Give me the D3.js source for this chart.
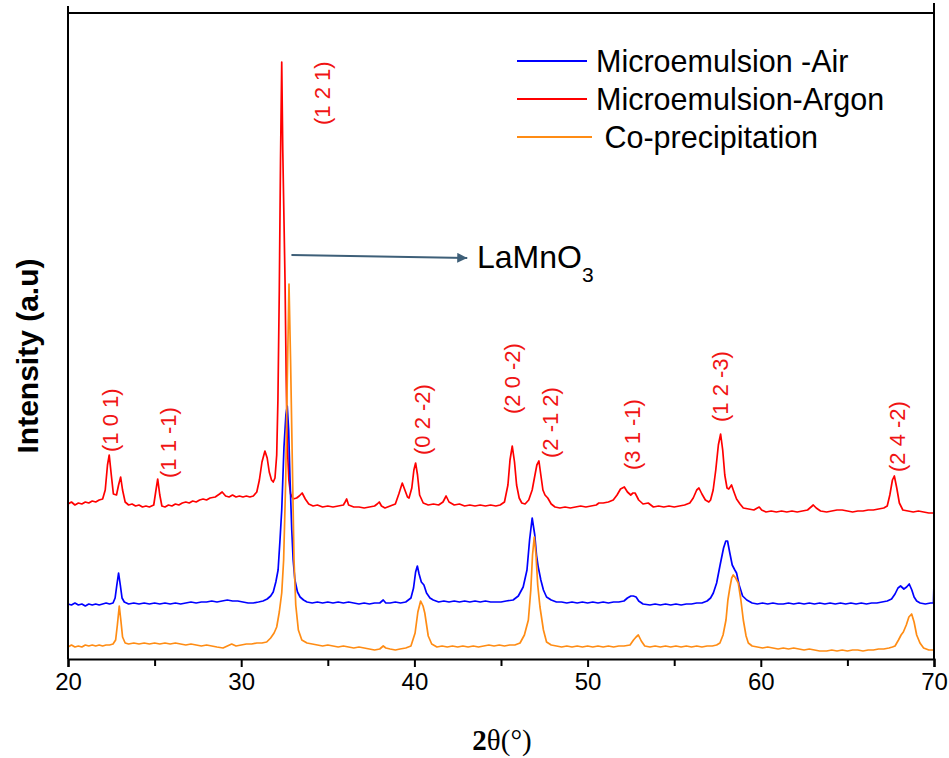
<!DOCTYPE html>
<html>
<head>
<meta charset="utf-8">
<script src="https://cdn.jsdelivr.net/npm/d3@7"></script>
<style>
  html, body { margin: 0; padding: 0; background: #fff; }
  svg { display: block; }
</style>
</head>
<body>
<script>
// ---------------- DATA ----------------
const seriesNames = ["Microemulsion -Air", "Microemulsion-Argon", " Co-precipitation"];
const seriesColors = ["#0000ff", "#ff0000", "#ff8c14"];

const xTicks = [20, 30, 40, 50, 60, 70];
const xMinorTicks = [25, 35, 45, 55, 65];

// [2θ, intensity (a.u., offset stacked)]
const argonPattern = [
[20.0,155],[20.2,157],[20.4,154],[20.6,156],[20.8,155],[21.0,157],[21.2,156],[21.4,158],[21.6,157],[21.8,159],
[22.0,160],[22.15,169],[22.28,194],[22.38,204],[22.5,184],[22.62,165],[22.8,164],[22.92,174],[23.04,182],[23.15,169],
[23.3,157],[23.5,154],[23.7,155],[23.9,153],[24.1,154],[24.3,152],[24.5,153],[24.7,152],[24.95,154],[25.08,169],
[25.18,180],[25.3,164],[25.42,153],[25.6,152],[25.8,154],[26.0,153],[26.2,155],[26.4,154],[26.6,156],[26.8,157],
[27.0,156],[27.2,158],[27.4,157],[27.6,159],[27.8,160],[28.0,159],[28.2,161],[28.5,162],[28.75,165],[28.9,167],
[29.1,163],[29.3,162],[29.5,164],[29.7,162],[29.9,163],[30.1,162],[30.3,163],[30.5,162],[30.7,163],[30.9,167],
[31.05,179],[31.2,197],[31.37,208],[31.5,201],[31.62,187],[31.75,179],[31.85,177],[31.95,181],[32.05,204],[32.12,259],
[32.2,369],[32.27,499],[32.34,597],[32.4,509],[32.47,439],[32.53,379],[32.6,279],[32.66,214],[32.75,179],[32.85,165],
[33.0,160],[33.2,161],[33.35,163],[33.52,166],[33.7,160],[33.9,155],[34.15,153],[34.4,154],[34.7,152],[35.0,153],
[35.3,152],[35.6,153],[35.9,154],[36.0,157],[36.09,160],[36.2,154],[36.5,152],[36.8,152],[37.1,151],[37.4,152],
[37.7,153],[37.85,155],[37.97,157],[38.1,153],[38.3,151],[38.6,153],[38.9,155],[39.1,165],[39.3,176],[39.45,169],
[39.6,162],[39.69,161],[39.85,171],[39.97,189],[40.07,196],[40.18,184],[40.3,164],[40.51,156],[40.8,154],[41.1,155],
[41.4,154],[41.65,157],[41.83,163],[42.0,157],[42.3,154],[42.6,155],[42.9,153],[43.2,154],[43.5,153],[43.8,154],
[44.1,153],[44.4,154],[44.7,153],[44.95,154],[45.2,157],[45.4,174],[45.52,199],[45.65,213],[45.78,197],[45.9,174],
[46.05,161],[46.2,156],[46.39,155],[46.6,159],[46.8,169],[46.95,183],[47.07,194],[47.19,198],[47.3,184],[47.42,169],
[47.54,164],[47.7,161],[47.9,155],[48.12,152],[48.4,151],[48.7,152],[49.0,151],[49.3,152],[49.6,153],[49.9,152],
[50.2,153],[50.5,154],[50.65,156],[50.9,156],[51.2,157],[51.48,159],[51.7,164],[51.9,170],[52.12,172],[52.3,167],
[52.49,164],[52.62,166],[52.74,166],[52.95,159],[53.2,155],[53.5,156],[53.8,152],[54.1,153],[54.4,152],[54.7,153],
[55.0,152],[55.3,153],[55.6,154],[55.9,156],[56.1,161],[56.3,169],[56.43,171],[56.6,165],[56.8,159],[57.0,157],
[57.1,159],[57.25,169],[57.4,189],[57.55,214],[57.68,225],[57.8,209],[57.92,184],[58.05,171],[58.15,170],[58.31,174],
[58.45,167],[58.6,160],[58.8,155],[58.99,151],[59.3,150],[59.6,149],[59.8,151],[59.91,152],[60.05,149],[60.3,147],
[60.6,148],[60.9,147],[61.2,148],[61.5,147],[61.8,148],[62.1,147],[62.4,148],[62.7,149],[62.9,152],[63.03,154],
[63.2,151],[63.45,148],[63.8,147],[64.1,148],[64.4,149],[64.7,149],[65.0,148],[65.3,147],[65.6,148],[65.9,148],
[66.2,149],[66.5,149],[66.8,150],[67.1,151],[67.3,153],[67.45,164],[67.6,179],[67.71,183],[67.85,171],[68.0,156],
[68.2,149],[68.5,148],[68.8,147],[69.1,148],[69.4,147],[69.7,146],[70.0,146]
];

const airPattern = [
[20.0,55],[20.2,54],[20.4,56],[20.6,54],[20.8,55],[21.0,53],[21.2,55],[21.4,54],[21.6,55],[21.8,54],
[22.0,55],[22.2,56],[22.4,55],[22.6,56],[22.72,61],[22.82,74],[22.92,86],[23.02,74],[23.12,61],[23.25,57],
[23.5,55],[23.8,56],[24.1,55],[24.4,56],[24.7,55],[25.0,56],[25.3,55],[25.6,56],[25.9,55],[26.2,56],
[26.5,55],[26.8,56],[27.1,57],[27.4,56],[27.7,57],[28.0,57],[28.3,58],[28.6,57],[28.9,58],[29.2,59],
[29.5,58],[29.8,58],[30.1,57],[30.4,56],[30.7,56],[31.0,57],[31.26,58],[31.5,60],[31.7,63],[31.85,67],
[32.0,77],[32.13,89],[32.24,119],[32.34,149],[32.47,212],[32.58,244],[32.66,253],[32.74,229],[32.82,179],[32.92,129],
[33.0,99],[33.1,79],[33.25,67],[33.4,62],[33.6,59],[33.8,57],[34.1,56],[34.4,57],[34.7,56],[35.0,57],
[35.3,56],[35.6,57],[35.9,56],[36.2,57],[36.5,56],[36.8,55],[37.1,56],[37.4,55],[37.7,56],[38.0,56],
[38.2,59],[38.35,56],[38.6,56],[38.9,57],[39.2,56],[39.5,57],[39.8,61],[39.95,71],[40.07,87],[40.17,93],
[40.27,85],[40.4,77],[40.55,74],[40.7,66],[40.9,61],[41.09,59],[41.4,57],[41.7,58],[42.0,57],[42.3,58],
[42.6,57],[42.9,58],[43.2,57],[43.5,58],[43.8,57],[44.1,58],[44.4,57],[44.7,57],[45.0,57],[45.3,58],
[45.7,59],[46.0,63],[46.28,72],[46.5,89],[46.65,119],[46.8,141],[46.95,124],[47.05,104],[47.15,92],[47.3,79],
[47.45,69],[47.63,62],[47.9,59],[48.2,57],[48.5,57],[48.8,56],[49.1,57],[49.4,56],[49.7,57],[50.0,56],
[50.3,57],[50.6,56],[50.9,57],[51.2,56],[51.5,57],[51.8,57],[52.1,58],[52.3,61],[52.5,63],[52.64,63],
[52.8,62],[52.95,58],[53.2,55],[53.6,54],[53.9,55],[54.2,54],[54.5,55],[54.8,54],[55.1,55],[55.4,54],
[55.7,55],[56.0,55],[56.3,56],[56.6,56],[56.9,58],[57.1,61],[57.26,66],[57.45,76],[57.65,94],[57.85,111],
[57.98,118],[58.08,118],[58.2,107],[58.35,94],[58.5,89],[58.6,86],[58.75,74],[58.95,63],[59.19,59],[59.5,56],
[59.8,55],[60.1,56],[60.4,55],[60.7,56],[61.0,55],[61.3,55],[61.6,56],[61.9,55],[62.2,56],[62.5,55],
[62.8,56],[63.1,55],[63.4,56],[63.7,55],[64.0,56],[64.3,55],[64.6,56],[64.9,55],[65.2,56],[65.5,55],
[65.8,56],[66.1,55],[66.4,56],[66.7,56],[67.0,57],[67.3,58],[67.55,60],[67.75,65],[67.92,71],[68.07,73],
[68.26,70],[68.42,72],[68.57,75],[68.72,69],[68.85,62],[69.0,58],[69.2,56],[69.5,55],[69.8,56],[69.97,56],
[70.0,77]
];

const coprecPattern = [
[20.0,12],[20.2,14],[20.4,12],[20.6,13],[20.8,12],[21.0,14],[21.2,13],[21.4,14],[21.6,13],[21.8,14],
[22.0,13],[22.2,14],[22.4,14],[22.6,15],[22.75,19],[22.85,34],[22.96,53],[23.05,39],[23.15,22],[23.3,16],
[23.5,15],[23.8,16],[24.1,15],[24.4,16],[24.7,15],[25.0,16],[25.3,15],[25.6,16],[25.9,15],[26.2,16],
[26.5,15],[26.8,14],[27.1,15],[27.4,14],[27.7,13],[28.0,14],[28.3,13],[28.6,12],[28.95,11],[29.2,13],
[29.45,15],[29.7,13],[30.0,14],[30.3,15],[30.6,15],[30.9,16],[31.2,16],[31.47,17],[31.7,21],[31.9,26],
[32.05,32],[32.2,47],[32.34,66],[32.45,99],[32.57,179],[32.66,279],[32.76,375],[32.85,299],[32.95,199],[33.05,99],
[33.15,54],[33.3,29],[33.5,19],[33.8,16],[34.1,15],[34.4,14],[34.7,13],[35.0,14],[35.3,13],[35.6,12],
[35.9,13],[36.2,12],[36.5,11],[36.8,12],[37.1,11],[37.4,10],[37.7,9],[38.0,10],[38.2,13],[38.35,11],
[38.6,10],[38.9,9],[39.17,10],[39.5,11],[39.8,13],[40.04,26],[40.2,47],[40.36,58],[40.5,53],[40.6,46],
[40.8,23],[41.0,15],[41.3,12],[41.6,13],[41.9,12],[42.2,13],[42.5,12],[42.8,13],[43.1,12],[43.4,13],
[43.7,12],[44.0,13],[44.3,14],[44.6,13],[44.9,14],[45.2,13],[45.5,14],[45.8,14],[46.1,16],[46.35,24],
[46.58,39],[46.72,69],[46.82,104],[46.92,122],[47.02,104],[47.12,74],[47.25,52],[47.45,29],[47.63,17],[47.9,14],
[48.2,13],[48.5,12],[48.8,13],[49.1,12],[49.4,13],[49.7,12],[50.0,13],[50.3,12],[50.6,13],[50.9,12],
[51.2,13],[51.5,12],[51.8,13],[52.1,13],[52.45,14],[52.65,19],[52.8,22],[52.93,24],[53.1,18],[53.3,13],
[53.6,12],[53.9,13],[54.2,12],[54.5,13],[54.8,12],[55.1,13],[55.4,12],[55.7,13],[56.0,12],[56.3,13],
[56.6,12],[56.9,13],[57.2,13],[57.45,14],[57.64,16],[57.82,24],[57.99,39],[58.1,59],[58.22,72],[58.32,81],
[58.41,84],[58.55,81],[58.7,76],[58.85,59],[58.99,39],[59.15,23],[59.28,16],[59.5,13],[59.8,12],[60.1,11],
[60.4,12],[60.7,11],[61.0,10],[61.3,11],[61.6,10],[61.9,11],[62.2,10],[62.5,9],[62.8,10],[63.1,9],
[63.4,8],[63.8,8],[64.1,9],[64.4,8],[64.7,9],[65.0,8],[65.3,9],[65.6,9],[65.9,8],[66.2,9],
[66.5,9],[66.8,10],[67.1,10],[67.4,11],[67.6,12],[67.75,13],[67.95,19],[68.1,24],[68.23,27],[68.4,34],
[68.55,42],[68.71,45],[68.85,37],[69.0,24],[69.19,16],[69.4,11],[69.7,9],[70.0,9]
];

// Miller index annotations: [label, 2θ, intensity at label foot]
const peakLabels = [
  ["(1 0 1)", 22.42, 207],
  ["(1 1 -1)", 25.77, 181],
  ["(1 2 1)", 34.67, 534],
  ["(0 2 -2)", 40.44, 204],
  ["(2 0 -2)", 45.64, 245],
  ["(2 -1 2)", 47.83, 201],
  ["(3 1 -1)", 52.56, 189],
  ["(1 2 -3)", 57.64, 237],
  ["(2 4 -2)", 67.86, 187]
];

// Phase arrow: from [2θ, I] to [2θ, I]
const phaseArrow = [[32.9, 404], [43.05, 401]];
const phaseName = "LaMnO";
const phaseSub = "3";

// ---------------- CHART ----------------
const W = 949, H = 758;
const margin = { left: 68, right: 15, top: 13, bottom: 99 };
const svg = d3.select("body").append("svg").attr("width", W).attr("height", H);

const x = d3.scaleLinear().domain([20, 70]).range([margin.left, W - margin.right]);
const y = d3.scaleLinear().domain([0, 646]).range([H - margin.bottom, margin.top]);

const sans = "'Liberation Sans', Arial, Helvetica, sans-serif";
const serif = "'Liberation Serif', 'Times New Roman', serif";

// patterns
const line = d3.line().x(d => x(d[0])).y(d => y(d[1]));
const drawOrder = [[argonPattern, 1], [airPattern, 0], [coprecPattern, 2]];
drawOrder.forEach(([data, i]) => {
  svg.append("path").datum(data)
    .attr("d", line)
    .attr("fill", "none")
    .attr("stroke", seriesColors[i])
    .attr("stroke-width", 1.7)
    .attr("stroke-linejoin", "round");
});

// frame
const x0 = x(20), x1 = x(70), yb = y(0), yt = y(646);
svg.append("line").attr("x1", x0).attr("x2", x1).attr("y1", yt).attr("y2", yt)
  .attr("stroke", "#000").attr("stroke-width", 2);
svg.append("line").attr("x1", x0).attr("x2", x0).attr("y1", yt - 7).attr("y2", yb)
  .attr("stroke", "#000").attr("stroke-width", 2);
svg.append("line").attr("x1", x1).attr("x2", x1).attr("y1", yt - 10).attr("y2", yb)
  .attr("stroke", "#000").attr("stroke-width", 2);

// bottom axis
const xAxis = d3.axisBottom(x).tickValues(xTicks).tickSize(8).tickPadding(6).tickFormat(d3.format("d"));
const gx = svg.append("g").attr("transform", `translate(0,${yb})`).call(xAxis);
gx.select(".domain").attr("stroke", "#000").attr("stroke-width", 2.2);
gx.selectAll(".tick line").attr("stroke", "#000").attr("stroke-width", 2);
gx.selectAll(".tick text").attr("font-family", sans).attr("font-size", 24).attr("fill", "#000");
svg.append("g").attr("transform", `translate(0,${yb})`)
  .call(d3.axisBottom(x).tickValues(xMinorTicks).tickSize(7).tickFormat(""))
  .call(g => g.select(".domain").remove())
  .selectAll(".tick line").attr("stroke", "#000").attr("stroke-width", 2);

// axis titles
const xt = svg.append("text").attr("x", 502).attr("y", 750).attr("text-anchor", "middle")
  .attr("font-family", serif).attr("font-size", 29).attr("fill", "#000");
xt.append("tspan").attr("font-weight", "bold").text("2");
xt.append("tspan").text("θ(°)");

svg.append("text").attr("transform", "translate(38,356) rotate(-90)")
  .attr("text-anchor", "middle").attr("font-family", sans).attr("font-weight", "bold")
  .attr("font-size", 30).attr("fill", "#000").text("Intensity (a.u)");

// peak labels
peakLabels.forEach(([t, tx, ty]) => {
  svg.append("text")
    .attr("transform", `translate(${x(tx)},${y(ty)}) rotate(-90)`)
    .attr("dy", "0.35em")
    .attr("font-family", sans).attr("font-size", 22).attr("fill", "#f01414")
    .text(t);
});

// arrow
const defs = svg.append("defs");
defs.append("marker").attr("id", "ah").attr("viewBox", "0 0 10 10")
  .attr("refX", 10).attr("refY", 5).attr("markerWidth", 6).attr("markerHeight", 5)
  .attr("markerUnits", "strokeWidth").attr("orient", "auto")
  .append("path").attr("d", "M0,0 L10,5 L0,10 z").attr("fill", "#3e5f78");
svg.append("line")
  .attr("x1", x(phaseArrow[0][0])).attr("y1", y(phaseArrow[0][1]))
  .attr("x2", x(phaseArrow[1][0])).attr("y2", y(phaseArrow[1][1]))
  .attr("stroke", "#3e5f78").attr("stroke-width", 2).attr("marker-end", "url(#ah)");

const ph = svg.append("text").attr("x", 477).attr("y", 268)
  .attr("font-family", sans).attr("font-size", 32).attr("fill", "#000");
ph.append("tspan").text(phaseName);
ph.append("tspan").attr("font-size", 21).attr("dy", 14).text(phaseSub);

// legend
const legY = [61, 99, 137];
const legEnd = [587, 587, 592];
[0, 1, 2].forEach(i => {
  svg.append("line").attr("x1", 517).attr("x2", legEnd[i]).attr("y1", legY[i]).attr("y2", legY[i])
    .attr("stroke", seriesColors[i]).attr("stroke-width", 2);
  svg.append("text").attr("x", 596).attr("y", legY[i] + 10.5)
    .attr("font-family", sans).attr("font-size", 30.5).attr("fill", "#000")
    .attr("xml:space", "preserve").style("white-space", "pre")
    .text(seriesNames[i]);
});
</script>
</body>
</html>
